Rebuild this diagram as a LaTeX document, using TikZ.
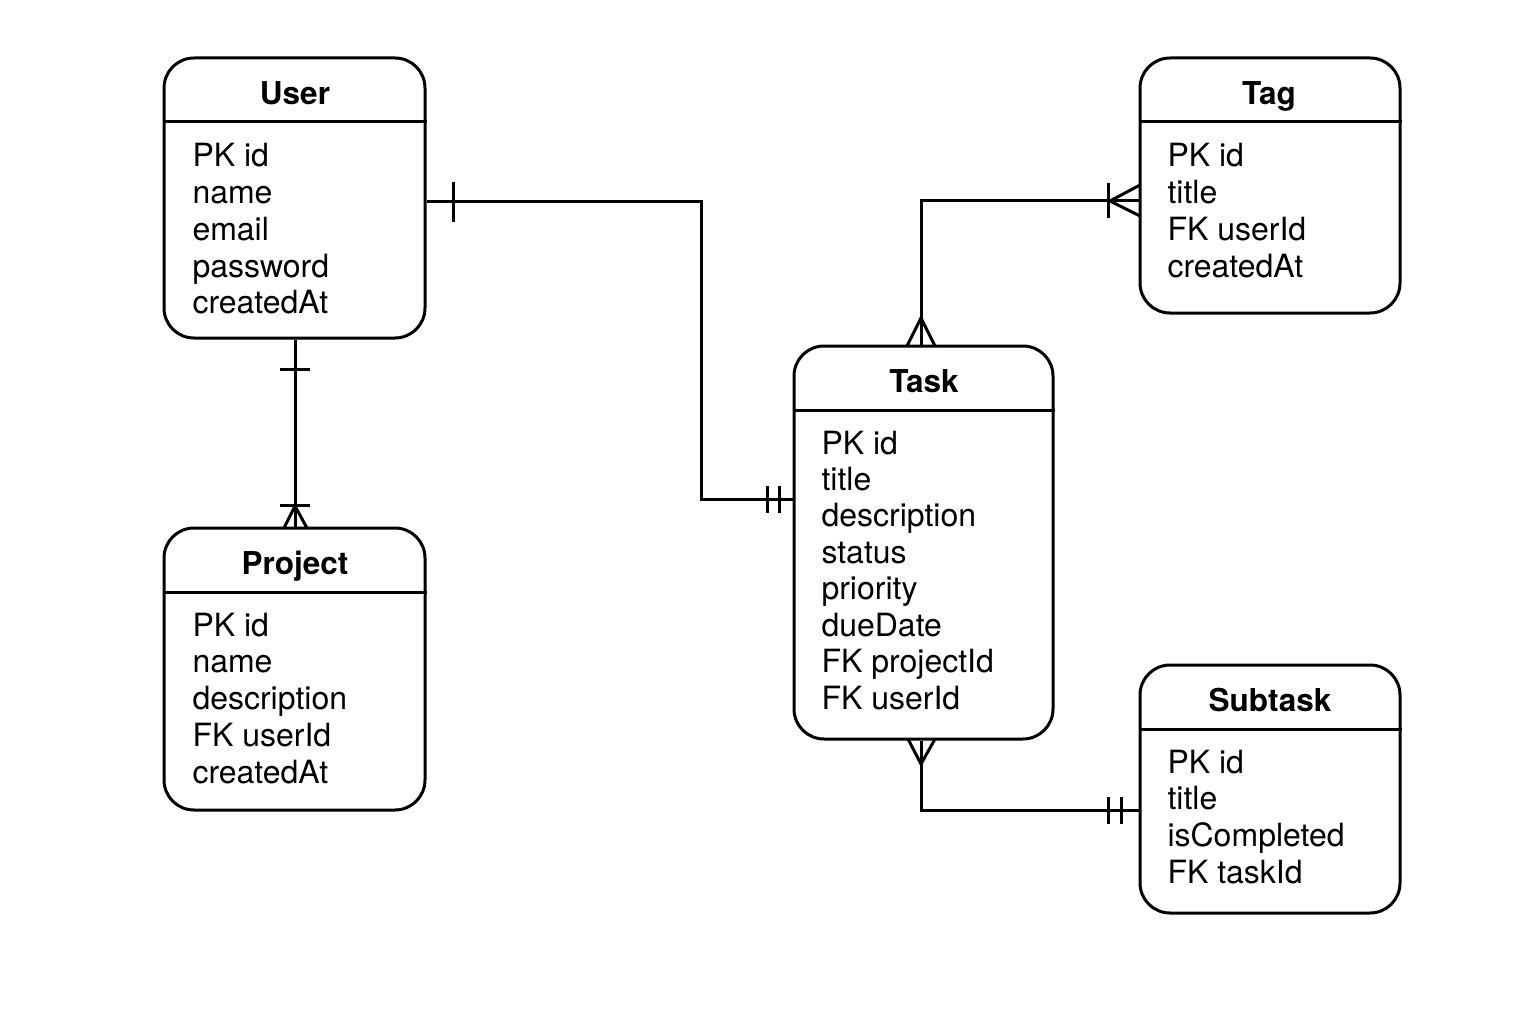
\documentclass[tikz,border=0pt]{standalone}
\usepackage{fontspec}
\setmainfont{TeX Gyre Heros}
\begin{document}
\begin{tikzpicture}[x=1pt,y=-1pt,
  line width=3pt,
  entity/.style={draw, rounded corners=30pt, minimum width=#1, inner sep=0pt},
  ttl/.style={anchor=base, inner sep=0pt, font=\fontsize{31.5}{36}\selectfont\bfseries},
  row/.style={anchor=base west, inner sep=0pt, font=\fontsize{32}{36}\selectfont},
  rel/.style={line width=3pt}
]
\useasboundingbox (0,0) rectangle (1536,1024);

% entity boxes
\node[entity=261pt, minimum height=280pt] (user) at (294.5,198) {};
\node[entity=260pt, minimum height=255pt] (tag) at (1270,185.5) {};
\node[entity=259pt, minimum height=393pt] (task) at (923.5,542.5) {};
\node[entity=261pt, minimum height=282pt] (project) at (294.5,669) {};
\node[entity=260pt, minimum height=248pt] (subtask) at (1270,789) {};

% header separators
\foreach \b in {user,tag,task,project,subtask}{
  \draw ([yshift=-65.5pt]\b.north west) -- ([yshift=-65.5pt]\b.north east);
}

% titles
\node[ttl] (user-t) at (295,105) {User};
\node[ttl] (tag-t) at (1269,105) {Tag};
\node[ttl] (task-t) at (924,392) {Task};
\node[ttl] (project-t) at (295,574) {Project};
\node[ttl] (subtask-t) at (1270,711) {Subtask};

% rows
\foreach \t [count=\i] in {PK id,name,email,password,createdAt}
  \node[row] (user-r\i) at (191,{167+(\i-1)*36.7}) {\t};
\foreach \t [count=\i] in {PK id,title,FK userId,createdAt}
  \node[row] (tag-r\i) at (1166,{167+(\i-1)*36.7}) {\t};
\foreach \t [count=\i] in {PK id,title,description,status,priority,dueDate,FK projectId,FK userId}
  \node[row] (task-r\i) at (820,{454+(\i-1)*36.45}) {\t};
\foreach \t [count=\i] in {PK id,name,description,FK userId,createdAt}
  \node[row] (project-r\i) at (191,{636+(\i-1)*36.75}) {\t};
\foreach \t [count=\i] in {PK id,title,isCompleted,FK taskId}
  \node[row] (subtask-r\i) at (1166,{773+(\i-1)*36.7}) {\t};

% User -- Task
\draw[rel] ([yshift=-4pt]user.east) -- (701,202) -- (701,499) -- ([yshift=43.5pt]task.west);
\draw[rel] (453,182) -- (453,222);
\draw[rel] (767,486) -- (767,513);
\draw[rel] (779,486) -- (779,513);

% User -- Project
\draw[rel] ([xshift=0.5pt]user.south) -- ([xshift=0.5pt]project.north);
\draw[rel] (280,369) -- (310,369);
\draw[rel] (280,505) -- (310,505);
\draw[rel] (284,528) -- (295,506) -- (307,528);

% Task -- Tag
\draw[rel] ([xshift=-2.5pt]task.north) -- (921,201) -- ([yshift=-15.5pt]tag.west);
\draw[rel] (907,346) -- (921,318) -- (935,346);
\draw[rel] (1108,183) -- (1108,218);
\draw[rel] (1140,185) -- (1110,201) -- (1140,216);

% Task -- Subtask
\draw[rel] ([xshift=-2.5pt]task.south) -- (921,810) -- ([yshift=-21pt]subtask.west);
\draw[rel] (908,739) -- (921,764) -- (935,739);
\draw[rel] (1108,797) -- (1108,824);
\draw[rel] (1121,797) -- (1121,824);
\end{tikzpicture}
\end{document}
